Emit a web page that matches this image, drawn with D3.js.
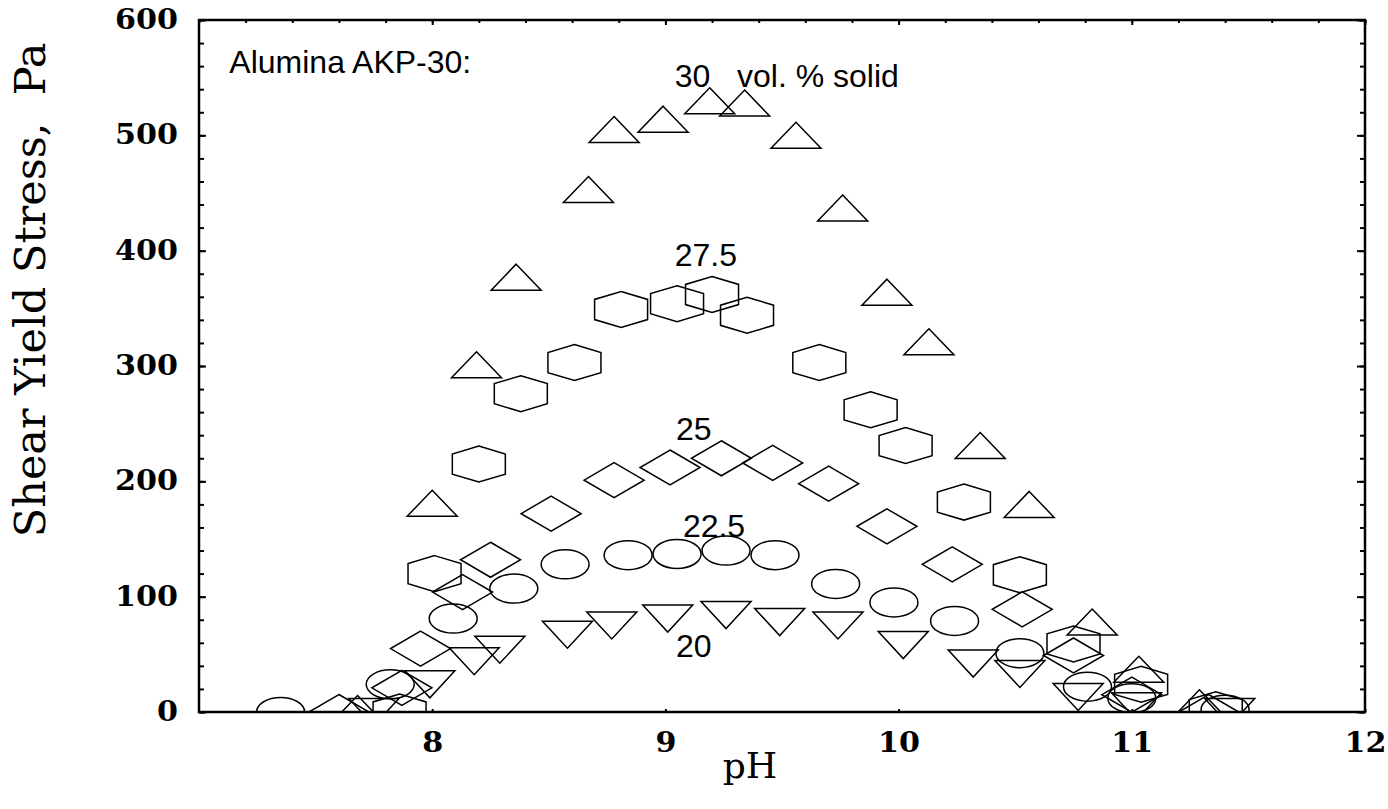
<!DOCTYPE html>
<html>
<head>
<meta charset="utf-8">
<script src="https://cdn.jsdelivr.net/npm/d3@7/dist/d3.min.js"></script>
<style>
  body { margin: 0; background: #fff; }
  svg { display: block; }
  .tick text { font-family: "DejaVu Serif", serif; font-weight: bold; font-size: 27px; fill: #000; }
  .note { font-family: "Liberation Sans", Arial, sans-serif; font-size: 32px; fill: #000; }
  .title { font-family: "DejaVu Serif", serif; fill: #000; }
</style>
</head>
<body>
<svg width="1388" height="809"></svg>
<script>
// pH vs shear yield stress (Pa), one array per solids loading
var vol30 = [[7.68, 3], [8.00, 181], [8.19, 301], [8.36, 377], [8.67, 453], [8.78, 505], [8.99, 514],
  [9.19, 530], [9.34, 528], [9.56, 500], [9.76, 437], [9.95, 364], [10.13, 321], [10.35, 231],
  [10.56, 180], [10.83, 78], [11.03, 37], [11.29, 8]];
var vol275 = [[7.86, 0], [8.01, 120], [8.20, 215], [8.38, 276], [8.61, 303], [8.81, 349], [9.05, 354],
  [9.20, 362], [9.35, 344], [9.66, 303], [9.88, 262], [10.03, 231], [10.28, 182], [10.52, 119],
  [10.75, 59], [11.04, 24], [11.36, 2]];
var vol25 = [[7.60, 0], [7.87, 21], [7.95, 55], [8.13, 104], [8.25, 132], [8.51, 172], [8.78, 201],
  [9.02, 212], [9.24, 220], [9.46, 216], [9.70, 198], [9.95, 161], [10.23, 128], [10.53, 89],
  [10.75, 49], [11.00, 15], [11.33, 0]];
var vol225 = [[7.35, 0], [7.82, 24], [8.09, 81], [8.35, 107], [8.57, 128], [8.84, 136], [9.05, 137],
  [9.26, 140], [9.47, 136], [9.73, 111], [9.98, 95], [10.24, 79], [10.52, 51], [10.81, 22],
  [11.00, 12], [11.40, 2]];
var vol20 = [[7.75, 0], [7.99, 24], [8.18, 44], [8.29, 54], [8.58, 67], [8.77, 75], [9.01, 81],
  [9.26, 84], [9.49, 78], [9.74, 75], [10.02, 58], [10.32, 42], [10.52, 33], [10.77, 13],
  [11.02, 5], [11.42, 0]];

var xTicks = [8, 9, 10, 11, 12];
var yTicks = [0, 100, 200, 300, 400, 500, 600];

var series = [
  { data: vol30, shape: "triangle" },
  { data: vol275, shape: "hexagon" },
  { data: vol25, shape: "diamond" },
  { data: vol225, shape: "circle" },
  { data: vol20, shape: "invtriangle" }
];

var labels = [
  { text: "Alumina AKP-30:", px: 7.13, v: 554 },
  { text: "30\u00a0\u00a0\u00a0vol. % solid", px: 9.04, v: 542 },
  { text: "27.5", px: 9.04, v: 387 },
  { text: "25", px: 9.045, v: 236 },
  { text: "22.5", px: 9.075, v: 152 },
  { text: "20", px: 9.045, v: 48 }
];

var svg = d3.select("svg");
var margin = { left: 199, right: 23, top: 20, bottom: 97 },
  width = +svg.attr("width"),
  height = +svg.attr("height");

var x = d3.scaleLinear().domain([7, 12]).range([margin.left, width - margin.right]);
var y = d3.scaleLinear().domain([0, 600]).range([height - margin.bottom, margin.top]);

svg.append("defs").append("clipPath").attr("id", "plot")
  .append("rect")
    .attr("x", x(7)).attr("y", y(600))
    .attr("width", x(12) - x(7)).attr("height", y(0) - y(600));

// marker outlines (picture is stretched sideways, so shapes are wide)
var line = d3.line();
function shapePath(shape) {
  var w, h;
  if (shape == "triangle") { w = 25; h = 13; return line([[0, -h], [w, h], [-w, h]]) + "Z"; }
  if (shape == "invtriangle") { w = 25; h = 13.5; return line([[-w, -h], [w, -h], [0, h]]) + "Z"; }
  if (shape == "diamond") { w = 30; h = 17.5; return line([[0, -h], [w, 0], [0, h], [-w, 0]]) + "Z"; }
  if (shape == "hexagon") {
    w = 26.5; h = 18;
    return line([[0, -h], [w, -h * 0.56], [w, h * 0.56], [0, h], [-w, h * 0.56], [-w, -h * 0.56]]) + "Z";
  }
}

var marks = svg.append("g").attr("clip-path", "url(#plot)");

series.forEach(function(s) {
  var g = marks.append("g");
  if (s.shape == "circle") {
    g.selectAll("ellipse")
      .data(s.data)
      .enter().append("ellipse")
        .attr("cx", function(d) { return x(d[0]); })
        .attr("cy", function(d) { return y(d[1]); })
        .attr("rx", 24).attr("ry", 14.5)
        .attr("fill", "none").attr("stroke", "#000").attr("stroke-width", 1.5);
  } else {
    g.selectAll("path")
      .data(s.data)
      .enter().append("path")
        .attr("transform", function(d) { return "translate(" + x(d[0]) + "," + y(d[1]) + ")"; })
        .attr("d", shapePath(s.shape))
        .attr("fill", "none").attr("stroke", "#000").attr("stroke-width", 1.5)
        .attr("stroke-linejoin", "miter");
  }
});

// axes: minor ticks, then major ticks with labels
function minor(axis, vals, size) {
  return axis.tickValues(vals).tickSize(size).tickFormat("");
}
var xMinor = d3.range(7, 12.01, 0.2);
var yMinor = d3.range(0, 601, 20);

svg.append("g").attr("transform", "translate(0," + y(600) + ")")
  .call(minor(d3.axisTop(x), xMinor, -3));
svg.append("g").attr("transform", "translate(0," + y(600) + ")")
  .call(minor(d3.axisTop(x), xTicks, -5));
svg.append("g").attr("transform", "translate(" + x(12) + ",0)")
  .call(minor(d3.axisRight(y), yMinor, -5));
svg.append("g").attr("transform", "translate(" + x(12) + ",0)")
  .call(minor(d3.axisRight(y), yTicks, -8));
svg.append("g").attr("transform", "translate(" + x(7) + ",0)")
  .call(minor(d3.axisLeft(y), yMinor, -5));

var gy = svg.append("g").attr("transform", "translate(" + x(7) + ",0)")
  .call(d3.axisLeft(y).tickValues(yTicks).tickSize(-7).tickPadding(21).tickFormat(d3.format("d")));
gy.selectAll(".tick text")
  .attr("textLength", function(d) { return String(d).length * 21; })
  .attr("lengthAdjust", "spacingAndGlyphs");

var gx = svg.append("g").attr("transform", "translate(0," + y(0) + ")")
  .call(d3.axisBottom(x).tickValues(xTicks).tickSize(-3).tickPadding(21).tickFormat(d3.format("d")));
gx.selectAll(".tick text")
  .attr("textLength", function(d) { return String(d).length * 21; })
  .attr("lengthAdjust", "spacingAndGlyphs");

svg.selectAll(".domain").remove();
svg.selectAll(".tick line").attr("stroke", "#000").attr("stroke-width", 2);

svg.append("rect")
  .attr("x", x(7)).attr("y", y(600))
  .attr("width", x(12) - x(7)).attr("height", y(0) - y(600))
  .attr("fill", "none").attr("stroke", "#000").attr("stroke-width", 2.5);

// notes inside the plot
svg.selectAll(".note")
  .data(labels)
  .enter().append("text")
    .attr("class", "note")
    .attr("x", function(d) { return x(d.px); })
    .attr("y", function(d) { return y(d.v); })
    .text(function(d) { return d.text; });

svg.append("text")
  .attr("class", "title")
  .attr("font-size", 43)
  .attr("text-anchor", "middle")
  .attr("transform", "translate(45," + y(366) + ") rotate(-90)")
  .text("Shear Yield Stress,\u00a0\u00a0Pa");

svg.append("text")
  .attr("class", "title")
  .attr("font-size", 36)
  .attr("text-anchor", "middle")
  .attr("x", 750)
  .attr("y", 778)
  .text("pH");
</script>
</body>
</html>
